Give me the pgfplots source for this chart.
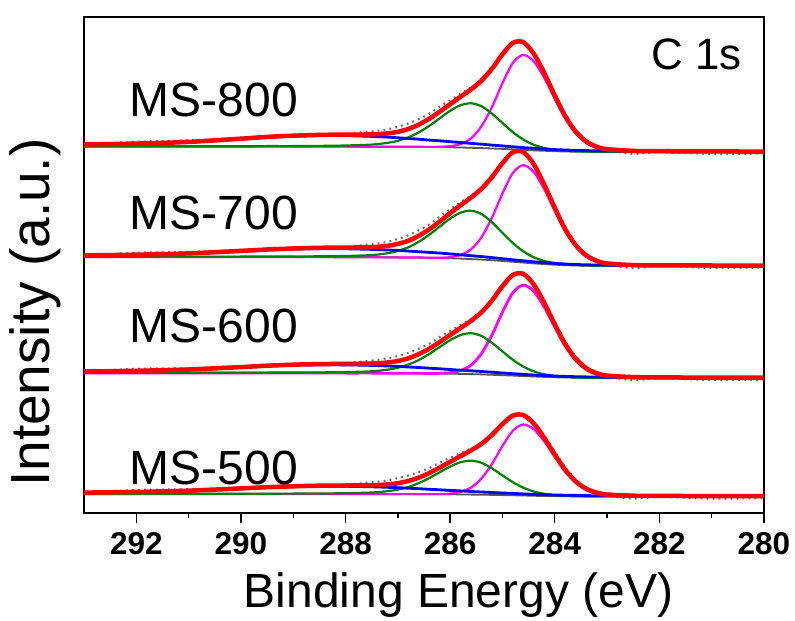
\documentclass[border=0pt]{standalone}
\usepackage{fontspec}
\setmainfont{Liberation Sans}
\usepackage{pgfplots}
\usepackage{pgfplotstable}
\pgfplotsset{compat=1.18}
\definecolor{cred}{RGB}{255,0,0}
\definecolor{cmag}{RGB}{255,0,255}
\definecolor{cgreen}{RGB}{0,128,0}
\definecolor{cblue}{RGB}{0,0,255}
\definecolor{cbg}{RGB}{85,85,85}
\definecolor{craw}{RGB}{105,105,105}
\newcommand{\ticklbl}{\fontsize{31.5}{31.5}\selectfont\bfseries}

\pgfplotstableread{
E bg blue green mag env raw
293 366.5 368.4 366.6 366.5 368.5 368.5
292 366.5 369.3 366.7 366.5 369.4 371.4
291 366.5 370.9 366.7 366.5 371.1 372.6
290 366.5 374.0 366.8 366.5 374.3 375.3
289.5 366.5 375.6 366.9 366.5 376.1 376.1
289 366.4 376.8 366.9 366.4 377.3 377.8
288.5 366.4 377.4 367.1 366.4 378.1 378.1
288 366.4 377.3 367.5 366.4 378.4 379.4
287.5 366.3 376.6 368.4 366.3 378.6 381.6
287.2 366.3 375.9 370.1 366.3 379.6 383.6
287.0 366.2 375.2 372.2 366.2 381.2 386.2
286.8 366.2 374.5 375.6 366.2 384.0 389.5
286.6 366.1 373.8 380.6 366.2 388.4 393.9
286.4 366.0 372.9 387.1 366.1 394.2 399.2
286.2 365.9 372.2 394.7 366.2 401.3 406.3
286.0 365.7 371.3 402.2 366.8 408.8 412.8
285.8 365.5 370.5 407.8 369.0 416.3 419.3
285.6 365.2 369.6 409.7 374.7 423.6 425.6
285.4 364.9 368.8 406.7 386.8 432.4 433.4
285.2 364.5 367.9 399.3 406.0 444.3 445.8
285.0 364.1 367.1 390.0 429.8 458.7 460.7
284.8 363.6 366.2 380.8 450.2 470.1 471.6
284.6 363.1 365.4 373.4 458.1 470.7 470.7
284.4 362.6 364.7 368.2 451.5 459.2 458.2
284.2 362.2 364.0 365.0 435.1 439.9 441.4
284.0 361.8 363.4 363.2 414.3 417.4 420.4
283.8 361.5 363.0 362.3 394.6 396.8 399.8
283.6 361.3 362.6 361.8 379.6 381.4 383.4
283.4 361.2 362.4 361.5 370.0 371.6 372.6
283.2 361.1 362.2 361.4 364.9 366.3 366.3
283.0 361.1 362.1 361.3 362.5 363.8 362.8
282.5 361.0 361.8 361.2 361.1 362.1 359.1
282 361.0 361.7 361.1 361.0 361.8 360.8
281 361.0 361.5 361.1 361.0 361.6 359.1
280 361.0 361.4 361.1 361.0 361.4 359.4
}\tEight

\pgfplotstableread{
E bg blue green mag env raw
293 256.0 257.4 256.1 256.0 257.6 257.6
292 256.0 258.1 256.2 256.0 258.3 260.3
291 256.0 259.4 256.2 256.0 259.6 261.1
290 256.0 261.8 256.4 256.0 262.1 263.1
289.5 256.0 263.1 256.5 256.0 263.5 263.5
289 255.9 263.9 256.5 255.9 264.5 265.0
288.5 255.9 264.4 256.7 255.9 265.2 265.2
288 255.8 264.2 257.0 255.8 265.4 266.4
287.5 255.7 263.6 257.9 255.7 265.8 268.8
287.2 255.6 263.0 259.7 255.6 267.1 271.1
287.0 255.6 262.6 262.1 255.6 269.1 274.1
286.8 255.5 261.9 265.7 255.5 272.2 277.7
286.6 255.4 261.3 271.2 255.5 277.2 282.7
286.4 255.2 260.6 278.2 255.3 283.6 288.6
286.2 255.0 259.9 286.4 255.3 291.5 296.5
286.0 254.7 259.1 294.4 255.8 299.8 303.8
285.8 254.4 258.2 300.4 258.0 307.8 310.8
285.6 253.9 257.3 302.3 263.7 315.5 317.5
285.4 253.4 256.4 298.9 275.8 324.3 325.3
285.2 252.8 255.4 290.7 295.4 335.9 337.4
285.0 252.0 254.3 280.1 319.5 349.9 351.9
284.8 251.2 253.2 269.9 340.1 360.8 362.3
284.6 250.4 252.2 261.6 347.9 360.9 360.9
284.4 249.6 251.2 255.7 340.9 348.6 347.6
284.2 248.9 250.4 252.0 323.8 328.3 329.8
284.0 248.3 249.6 249.9 302.2 305.1 308.1
283.8 247.8 249.0 248.6 281.7 283.7 286.7
283.6 247.5 248.5 248.0 266.3 267.9 269.9
283.4 247.3 248.2 247.7 256.4 257.7 258.7
283.2 247.2 248.0 247.5 251.1 252.2 252.2
283.0 247.1 247.9 247.4 248.6 249.6 248.6
282.5 247.0 247.6 247.2 247.1 247.9 244.9
282 247.0 247.5 247.1 247.0 247.7 246.7
281 247.0 247.4 247.1 247.0 247.5 245.0
280 247.0 247.3 247.1 247.0 247.4 245.4
}\tSeven

\pgfplotstableread{
E bg blue green mag env raw
293 140.0 141.4 140.1 140.0 141.5 141.5
292 140.0 142.1 140.2 140.0 142.2 144.2
291 140.0 143.3 140.2 140.0 143.5 145.0
290 140.0 145.6 140.3 140.0 145.9 146.9
289.5 140.0 146.9 140.4 140.0 147.3 147.3
289 140.0 147.8 140.5 140.0 148.3 148.8
288.5 140.0 148.2 140.6 140.0 148.9 148.9
288 139.9 148.1 140.9 139.9 149.1 150.1
287.5 139.9 147.6 141.7 139.9 149.5 152.5
287.2 139.8 147.0 143.3 139.8 150.5 154.5
287.0 139.8 146.6 145.2 139.8 152.0 157.0
286.8 139.7 146.0 148.4 139.7 154.7 160.2
286.6 139.7 145.5 153.0 139.7 158.9 164.4
286.4 139.6 144.8 159.0 139.6 164.3 169.3
286.2 139.5 144.2 166.0 139.7 171.0 176.0
286.0 139.3 143.5 172.8 140.3 178.0 182.0
285.8 139.1 142.8 178.0 142.5 185.1 188.1
285.6 138.9 142.2 179.8 147.9 192.2 194.2
285.4 138.6 141.5 177.0 159.5 200.8 201.8
285.2 138.2 140.8 170.2 178.0 212.6 214.1
285.0 137.8 140.0 161.6 200.8 226.8 228.8
284.8 137.4 139.3 153.1 220.3 238.1 239.6
284.6 136.9 138.6 146.4 227.9 239.1 239.1
284.4 136.5 138.0 141.6 221.6 228.4 227.4
284.2 136.1 137.5 138.7 205.9 210.0 211.5
284.0 135.7 137.0 137.0 186.0 188.6 191.6
283.8 135.5 136.6 136.2 167.1 168.9 171.9
283.6 135.3 136.3 135.7 152.8 154.3 156.3
283.4 135.2 136.1 135.5 143.6 144.8 145.8
283.2 135.1 135.9 135.3 138.7 139.8 139.8
283.0 135.1 135.8 135.3 136.4 137.4 136.4
282.5 135.0 135.6 135.2 135.1 135.9 132.9
282 135.0 135.5 135.1 135.0 135.6 134.6
281 135.0 135.4 135.1 135.0 135.4 132.9
280 135.0 135.3 135.0 135.0 135.3 133.3
}\tSix

\pgfplotstableread{
E bg blue green mag env raw
293 19.0 20.3 19.1 19.0 20.4 20.4
292 19.0 21.0 19.1 19.0 21.1 23.1
291 19.0 22.1 19.2 19.0 22.3 23.8
290 19.0 24.3 19.3 19.0 24.6 25.6
289.5 19.0 25.5 19.3 19.0 25.8 25.8
289 19.0 26.3 19.4 19.0 26.7 27.2
288.5 19.0 26.7 19.5 19.0 27.3 27.3
288 19.0 26.7 19.8 19.0 27.5 28.5
287.5 18.9 26.2 20.5 18.9 27.7 30.7
287.2 18.9 25.7 21.8 18.9 28.6 32.6
287.0 18.9 25.3 23.4 18.9 29.8 34.8
286.8 18.9 24.8 26.0 18.9 32.0 37.5
286.6 18.8 24.3 29.9 18.9 35.4 40.9
286.4 18.8 23.7 34.9 18.9 39.9 44.9
286.2 18.7 23.2 40.7 18.9 45.4 50.4
286.0 18.7 22.6 46.4 19.4 51.2 55.2
285.8 18.6 22.1 50.8 21.2 56.9 59.9
285.6 18.4 21.5 52.3 25.5 62.6 64.6
285.4 18.3 21.0 50.2 34.6 69.2 70.2
285.2 18.1 20.5 44.6 49.1 78.1 79.6
285.0 17.9 20.0 37.6 67.0 88.8 90.8
284.8 17.7 19.6 30.8 82.4 97.4 98.9
284.6 17.5 19.1 25.3 88.5 97.9 97.9
284.4 17.2 18.7 21.5 83.7 89.4 88.4
284.2 17.0 18.4 19.2 71.6 75.1 76.6
284.0 16.9 18.0 17.9 56.1 58.4 61.4
283.8 16.7 17.8 17.3 41.4 43.1 46.1
283.6 16.6 17.6 17.0 30.3 31.6 33.6
283.4 16.6 17.4 16.8 23.2 24.3 25.3
283.2 16.6 17.3 16.8 19.4 20.4 20.4
283.0 16.5 17.2 16.7 17.6 18.5 17.5
282.5 16.5 17.1 16.6 16.6 17.3 14.3
282 16.5 17.0 16.6 16.5 17.1 16.1
281 16.5 16.9 16.6 16.5 16.9 14.4
280 16.5 16.8 16.5 16.5 16.8 14.8
}\tFive

\pgfplotsset{
  rawst/.style={craw, line width=2pt, dash pattern=on 1.8pt off 4.2pt, smooth, mark=none},
  bgst/.style={cbg, line width=1.8pt, smooth, mark=none},
  grst/.style={cgreen, line width=2.2pt, smooth, mark=none},
  magst/.style={cmag, line width=2.2pt, smooth, mark=none},
  blst/.style={cblue, line width=2.8pt, smooth, mark=none},
  envst/.style={cred, line width=4.5pt, smooth, mark=none},
}

\begin{document}
\begin{tikzpicture}
\begin{axis}[
  scale only axis, width=680pt, height=496pt,
  xmin=280, xmax=293, ymin=0, ymax=496, x dir=reverse,
  clip=false,
  xtick={280,282,284,286,288,290,292}, minor xtick={281,283,285,287,289,291},
  xticklabels={},
  ytick=\empty, xtick pos=left, tick align=outside,
  major tick length=10pt, minor tick length=5pt,
  every tick/.style={black, line width=1.4pt},
  axis line style={line width=1.4pt},
  xlabel={Binding Energy (eV)},
  ylabel={Intensity (a.u.)},
  xlabel style={font=\fontsize{48}{48}\selectfont, inner sep=0pt, at={(axis description cs:0.551,-0.1915)}, anchor=base},
  ylabel style={font=\fontsize{55}{55}\selectfont, inner sep=0pt, at={(axis description cs:-0.05,0.404)}, anchor=base},
]
\addplot[rawst] table[x=E,y=raw]{\tEight};
\addplot[bgst] table[x=E,y=bg]{\tEight};
\addplot[magst] table[x=E,y=mag]{\tEight};
\addplot[grst] table[x=E,y=green]{\tEight};
\addplot[blst] table[x=E,y=blue]{\tEight};
\addplot[envst] table[x=E,y=env]{\tEight};

\addplot[rawst] table[x=E,y=raw]{\tSeven};
\addplot[bgst] table[x=E,y=bg]{\tSeven};
\addplot[magst] table[x=E,y=mag]{\tSeven};
\addplot[grst] table[x=E,y=green]{\tSeven};
\addplot[blst] table[x=E,y=blue]{\tSeven};
\addplot[envst] table[x=E,y=env]{\tSeven};

\addplot[rawst] table[x=E,y=raw]{\tSix};
\addplot[bgst] table[x=E,y=bg]{\tSix};
\addplot[magst, line width=2.8pt] table[x=E,y=mag]{\tSix};
\addplot[grst] table[x=E,y=green]{\tSix};
\addplot[blst] table[x=E,y=blue]{\tSix};
\addplot[envst] table[x=E,y=env]{\tSix};

\addplot[rawst] table[x=E,y=raw]{\tFive};
\addplot[bgst] table[x=E,y=bg]{\tFive};
\addplot[magst] table[x=E,y=mag]{\tFive};
\addplot[grst] table[x=E,y=green]{\tFive};
\addplot[blst] table[x=E,y=blue]{\tFive};
\addplot[envst] table[x=E,y=env]{\tFive};

\node[anchor=base west, inner sep=0pt, font=\fontsize{48}{48}\selectfont] at (axis cs:292.13,396) {MS-800};
\node[anchor=base west, inner sep=0pt, font=\fontsize{48}{48}\selectfont] at (axis cs:292.13,283) {MS-700};
\node[anchor=base west, inner sep=0pt, font=\fontsize{48}{48}\selectfont] at (axis cs:292.13,170) {MS-600};
\node[anchor=base west, inner sep=0pt, font=\fontsize{48}{48}\selectfont] at (axis cs:292.13,29) {MS-500};
\node[anchor=base west, inner sep=0pt, font=\fontsize{44}{44}\selectfont] at (axis cs:282.16,443) {C 1s};

\node[anchor=base, inner sep=0pt, font=\ticklbl] at (axis cs:292,-41) {292};
\node[anchor=base, inner sep=0pt, font=\ticklbl] at (axis cs:290,-41) {290};
\node[anchor=base, inner sep=0pt, font=\ticklbl] at (axis cs:288,-41) {288};
\node[anchor=base, inner sep=0pt, font=\ticklbl] at (axis cs:286,-41) {286};
\node[anchor=base, inner sep=0pt, font=\ticklbl] at (axis cs:284,-41) {284};
\node[anchor=base, inner sep=0pt, font=\ticklbl] at (axis cs:282,-41) {282};
\node[anchor=base, inner sep=0pt, font=\ticklbl] at (axis cs:280,-41) {280};
\end{axis}
\path (current axis.south west) ++(-84pt,-108pt) rectangle ++(795pt,621pt);
\end{tikzpicture}
\end{document}
